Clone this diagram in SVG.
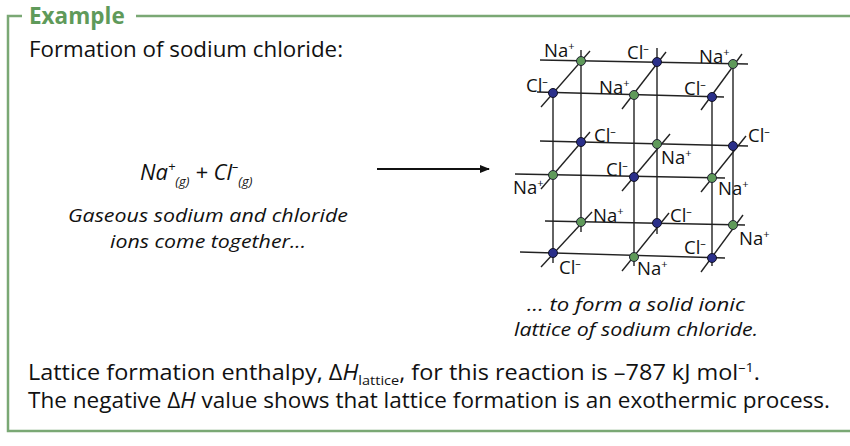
<svg xmlns="http://www.w3.org/2000/svg" width="850" height="446" viewBox="0 0 850 446">
<defs><marker id="ah" markerWidth="10" markerHeight="8" refX="9" refY="4" orient="auto" markerUnits="userSpaceOnUse"><path d="M0,0 L10,4 L0,8 Z" fill="#111"/></marker></defs>
<style>
text{font-family:"Open Sans","Liberation Sans",sans-serif;fill:#111}
.l{stroke:#222;stroke-width:1.4;fill:none}
.g{fill:#5f9a5a;stroke:#223;stroke-width:1}
.b{fill:#2a2f8a;stroke:#112;stroke-width:1}
.lab{font-size:18.5px}
</style>
<rect width="850" height="446" fill="#fff"/>
<g id="frame">
<path d="M8,32 V16 H22 M136,16 H850 M8,16 V431 H850" fill="none" stroke="#7aa874" stroke-width="2.5"/>
<text x="29" y="24" font-size="22.5" font-weight="bold" style="fill:#5f9a5a">Example</text>
</g>
<text x="29" y="57" font-size="21.5" textLength="314" lengthAdjust="spacingAndGlyphs">Formation of sodium chloride:</text>
<g id="reactants">
<text x="140" y="180" font-size="22" font-style="italic">Na<tspan font-size="13" dy="-9">+</tspan><tspan font-size="13" dy="15">(g)</tspan><tspan dy="-6"> + Cl</tspan><tspan font-size="13" dy="-9">–</tspan><tspan font-size="13" dy="15">(g)</tspan></text>
<text x="208" y="222" font-size="18" font-style="italic" text-anchor="middle" textLength="280" lengthAdjust="spacingAndGlyphs">Gaseous sodium and chloride</text>
<text x="208" y="248" font-size="18" font-style="italic" text-anchor="middle" textLength="196" lengthAdjust="spacingAndGlyphs">ions come together...</text>
</g>
<g id="connectors"><line x1="377" y1="169" x2="489" y2="169" stroke="#111" stroke-width="2" marker-end="url(#ah)"/></g>
<g id="lattice">
<g class="l">
<line x1="540" y1="60" x2="748" y2="64"/><line x1="537" y1="92" x2="724" y2="97"/>
<line x1="540" y1="141" x2="748" y2="146"/><line x1="515" y1="174" x2="725" y2="178"/>
<line x1="545" y1="221" x2="745" y2="225"/><line x1="520" y1="252" x2="725" y2="258"/>
<line x1="581" y1="50" x2="581" y2="232"/><line x1="657" y1="48" x2="657" y2="234"/><line x1="733" y1="64" x2="733" y2="226"/>
<line x1="553" y1="93" x2="553" y2="263"/><line x1="634" y1="95" x2="634" y2="266"/><line x1="712" y1="97" x2="712" y2="266"/>
<line x1="541" y1="107" x2="590" y2="51"/><line x1="622" y1="109" x2="666" y2="52"/><line x1="701" y1="110" x2="742" y2="54"/>
<line x1="541" y1="189" x2="590" y2="132"/><line x1="622" y1="191" x2="670" y2="134"/><line x1="701" y1="192" x2="746" y2="136"/>
<line x1="541" y1="267" x2="592" y2="212"/><line x1="622" y1="271" x2="669" y2="213"/><line x1="701" y1="272" x2="743" y2="215"/>
</g>
<circle class="g" cx="581" cy="61" r="4.5"/><circle class="b" cx="657" cy="62" r="4.5"/><circle class="g" cx="733" cy="64" r="4.5"/>
<circle class="b" cx="553" cy="93" r="4.5"/><circle class="g" cx="634" cy="95" r="4.5"/><circle class="b" cx="712" cy="97" r="4.5"/>
<circle class="b" cx="581" cy="142" r="4.5"/><circle class="g" cx="657" cy="144" r="4.5"/><circle class="b" cx="733" cy="146" r="4.5"/>
<circle class="g" cx="553" cy="175" r="4.5"/><circle class="b" cx="634" cy="177" r="4.5"/><circle class="g" cx="712" cy="178" r="4.5"/>
<circle class="g" cx="581" cy="222" r="4.5"/><circle class="b" cx="657" cy="223" r="4.5"/><circle class="g" cx="733" cy="225" r="4.5"/>
<circle class="b" cx="553" cy="253" r="4.5"/><circle class="g" cx="634" cy="257" r="4.5"/><circle class="b" cx="712" cy="258" r="4.5"/>
<g class="lab">
<text x="544" y="57">Na<tspan font-size="11" dy="-7">+</tspan></text>
<text x="627" y="59">Cl<tspan font-size="11" dy="-7">–</tspan></text>
<text x="699" y="63">Na<tspan font-size="11" dy="-7">+</tspan></text>
<text x="526" y="92">Cl<tspan font-size="11" dy="-7">–</tspan></text>
<text x="599" y="94">Na<tspan font-size="11" dy="-7">+</tspan></text>
<text x="684" y="95">Cl<tspan font-size="11" dy="-7">–</tspan></text>
<text x="594" y="142">Cl<tspan font-size="11" dy="-7">–</tspan></text>
<text x="748" y="142">Cl<tspan font-size="11" dy="-7">–</tspan></text>
<text x="661" y="164">Na<tspan font-size="11" dy="-7">+</tspan></text>
<text x="606" y="176">Cl<tspan font-size="11" dy="-7">–</tspan></text>
<text x="513" y="194">Na<tspan font-size="11" dy="-7">+</tspan></text>
<text x="718" y="195">Na<tspan font-size="11" dy="-7">+</tspan></text>
<text x="593" y="222">Na<tspan font-size="11" dy="-7">+</tspan></text>
<text x="670" y="222">Cl<tspan font-size="11" dy="-7">–</tspan></text>
<text x="739" y="245">Na<tspan font-size="11" dy="-7">+</tspan></text>
<text x="684" y="254">Cl<tspan font-size="11" dy="-7">–</tspan></text>
<text x="559" y="274">Cl<tspan font-size="11" dy="-7">–</tspan></text>
<text x="637" y="275">Na<tspan font-size="11" dy="-7">+</tspan></text>
</g>
</g>
<text x="636" y="311" font-size="18" font-style="italic" text-anchor="middle" textLength="218" lengthAdjust="spacingAndGlyphs">... to form a solid ionic</text>
<text x="636" y="336" font-size="18" font-style="italic" text-anchor="middle" textLength="244" lengthAdjust="spacingAndGlyphs">lattice of sodium chloride.</text>
<text x="28" y="380" font-size="21" textLength="732" lengthAdjust="spacingAndGlyphs">Lattice formation enthalpy, Δ<tspan font-style="italic">H</tspan><tspan font-size="13" dy="5">lattice</tspan><tspan dy="-5">, for this reaction is –787 kJ mol</tspan><tspan font-size="13" dy="-8">–1</tspan><tspan dy="8">.</tspan></text>
<text x="28" y="408" font-size="21" textLength="802" lengthAdjust="spacingAndGlyphs">The negative Δ<tspan font-style="italic">H</tspan> value shows that lattice formation is an exothermic process.</text>
</svg>
